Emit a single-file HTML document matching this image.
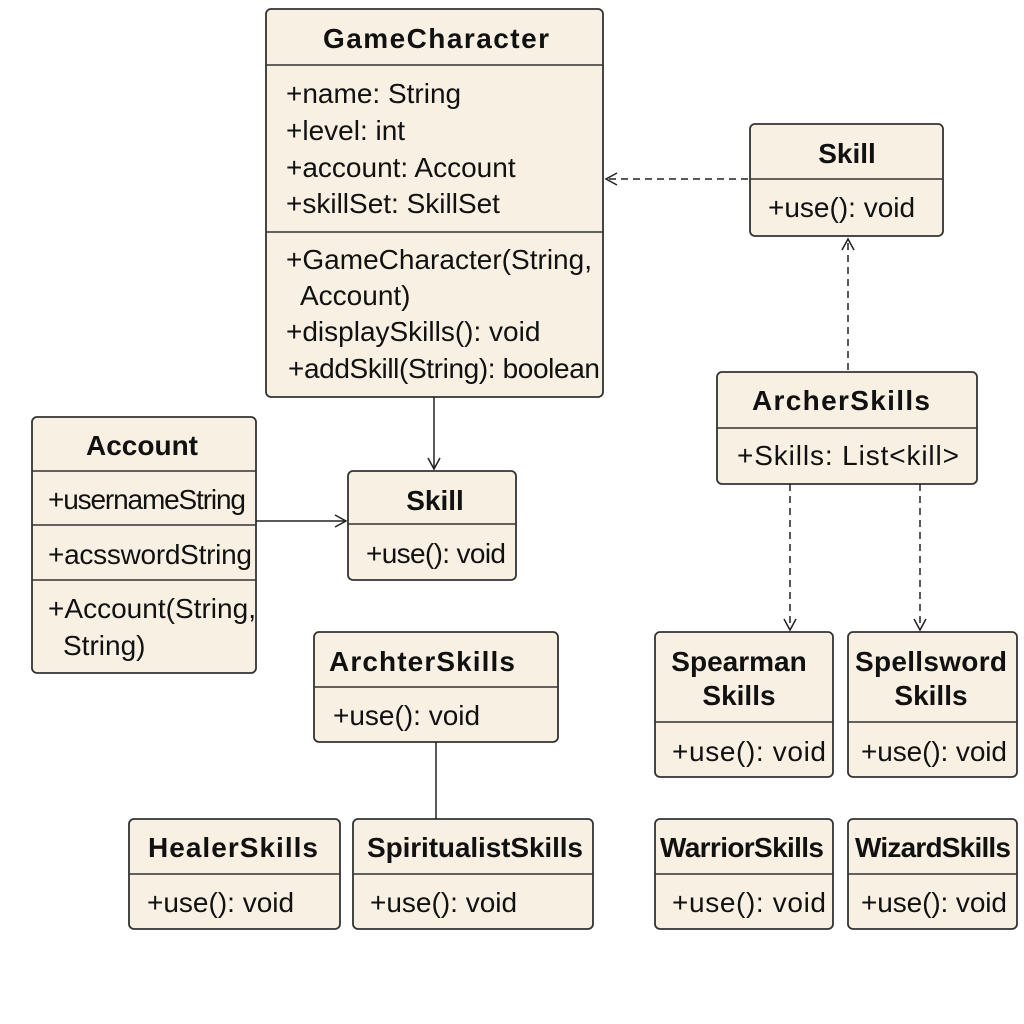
<!DOCTYPE html>
<html><head><meta charset="utf-8"><style>body{margin:0;background:#fff}svg{display:block}text{font-family:"Liberation Sans",sans-serif;fill:#111}.t{font-weight:bold;font-size:28px;text-anchor:middle}.a{font-size:28px}</style></head><body>
<svg width="1024" height="1024" viewBox="0 0 1024 1024" xmlns="http://www.w3.org/2000/svg">
<defs><marker id="ar" markerWidth="14" markerHeight="14" refX="12" refY="7" orient="auto" markerUnits="userSpaceOnUse"><path d="M1,1 L12,7 L1,13" fill="none" stroke="#222" stroke-width="1.5"/></marker></defs>
<g fill="#f8f0e2" stroke="#333" stroke-width="1.8">
<rect x="266" y="9" width="337" height="388" rx="5"/>
<rect x="750" y="124" width="193" height="112" rx="5"/>
<rect x="717" y="372" width="260" height="112" rx="5"/>
<rect x="32" y="417" width="224" height="256" rx="5"/>
<rect x="348" y="471" width="168" height="109" rx="5"/>
<rect x="314" y="632" width="244" height="110" rx="5"/>
<rect x="129" y="819" width="211" height="110" rx="5"/>
<rect x="353" y="819" width="240" height="110" rx="5"/>
<rect x="655" y="632" width="178" height="145" rx="5"/>
<rect x="848" y="632" width="169" height="145" rx="5"/>
<rect x="655" y="819" width="178" height="110" rx="5"/>
<rect x="848" y="819" width="169" height="110" rx="5"/>
</g>
<g stroke="#333" stroke-width="1.5">
<line x1="266" y1="65" x2="603" y2="65"/><line x1="266" y1="232" x2="603" y2="232"/>
<line x1="750" y1="179" x2="943" y2="179"/>
<line x1="717" y1="428" x2="977" y2="428"/>
<line x1="32" y1="471" x2="256" y2="471"/><line x1="32" y1="525" x2="256" y2="525"/><line x1="32" y1="580" x2="256" y2="580"/>
<line x1="348" y1="524" x2="516" y2="524"/>
<line x1="314" y1="687" x2="558" y2="687"/>
<line x1="129" y1="874" x2="340" y2="874"/><line x1="353" y1="874" x2="593" y2="874"/>
<line x1="655" y1="722" x2="833" y2="722"/><line x1="848" y1="722" x2="1017" y2="722"/>
<line x1="655" y1="874" x2="833" y2="874"/><line x1="848" y1="874" x2="1017" y2="874"/>
</g>
<g stroke="#222" stroke-width="1.5" fill="none">
<line x1="748" y1="179" x2="606" y2="179" stroke-dasharray="7,5" marker-end="url(#ar)"/>
<line x1="848" y1="370" x2="848" y2="239" stroke-dasharray="7,5" marker-end="url(#ar)"/>
<line x1="434" y1="397" x2="434" y2="469" marker-end="url(#ar)"/>
<line x1="256" y1="521" x2="346" y2="521" marker-end="url(#ar)"/>
<line x1="790" y1="484" x2="790" y2="630" stroke-dasharray="7,5" marker-end="url(#ar)"/>
<line x1="920" y1="484" x2="920" y2="630" stroke-dasharray="7,5" marker-end="url(#ar)"/>
<line x1="436" y1="742" x2="436" y2="819"/>
</g>
<text class="t" x="436" y="48" textLength="226">GameCharacter</text>
<text class="a" x="286" y="103">+name: String</text><text class="a" x="286" y="140">+level: int</text><text class="a" x="286" y="177">+account: Account</text><text class="a" x="286" y="213">+skillSet: SkillSet</text>
<text class="a" x="286" y="269" textLength="306">+GameCharacter(String,</text><text class="a" x="300" y="305">Account)</text><text class="a" x="286" y="341">+displaySkills(): void</text><text class="a" x="288" y="378" textLength="312">+addSkill(String): boolean</text>
<text class="t" x="847" y="163">Skill</text><text class="a" x="768" y="217">+use(): void</text>
<text class="t" x="841" y="410" textLength="178">ArcherSkills</text><text class="a" x="737" y="465" textLength="222">+Skills: List&lt;kill&gt;</text>
<text class="t" x="142" y="455">Account</text><text class="a" x="48" y="509" textLength="198">+usernameString</text><text class="a" x="48" y="564" textLength="204">+acsswordString</text><text class="a" x="48" y="618" textLength="208">+Account(String,</text><text class="a" x="63" y="655">String)</text>
<text class="t" x="435" y="510">Skill</text><text class="a" x="366" y="563" textLength="140">+use(): void</text>
<text class="t" x="422" y="671" textLength="186">ArchterSkills</text><text class="a" x="333" y="725">+use(): void</text>
<text class="t" x="233" y="857" textLength="170">HealerSkills</text><text class="a" x="147" y="912">+use(): void</text>
<text class="t" x="475" y="857" textLength="216">SpiritualistSkills</text><text class="a" x="370" y="912">+use(): void</text>
<text class="t" x="739" y="671">Spearman</text><text class="t" x="739" y="705">Skills</text><text class="a" x="672" y="761" textLength="154">+use(): void</text>
<text class="t" x="931" y="671" textLength="152">Spellsword</text><text class="t" x="931" y="705">Skills</text><text class="a" x="861" y="761" textLength="146">+use(): void</text>
<text class="t" x="742" y="857" textLength="164">WarriorSkills</text><text class="a" x="672" y="912" textLength="154">+use(): void</text>
<text class="t" x="933" y="857" textLength="156">WizardSkills</text><text class="a" x="861" y="912" textLength="146">+use(): void</text>
</svg></body></html>
